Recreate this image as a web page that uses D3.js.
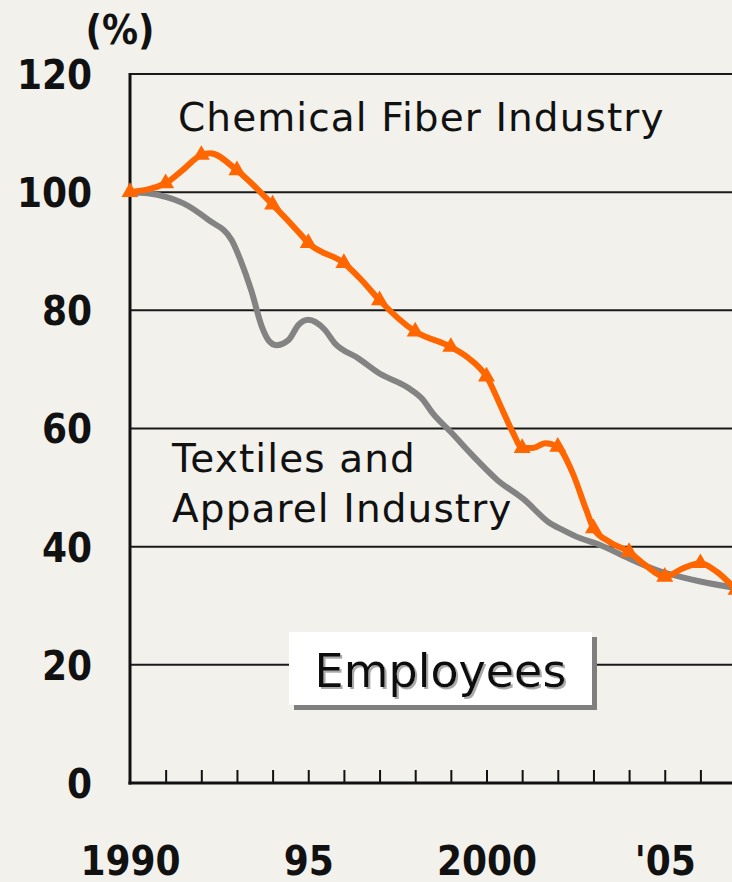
<!DOCTYPE html>
<html>
<head>
<meta charset="utf-8">
<script src="https://cdn.jsdelivr.net/npm/d3@7/dist/d3.min.js"></script>
<style>
  html, body { margin: 0; padding: 0; background: #f2f1ec; }
  svg { display: block; }
  .axlab { font-family: "DejaVu Sans Condensed", "DejaVu Sans", sans-serif; font-stretch: condensed; font-weight: bold; font-size: 40px; fill: #111; }
  .note { font-family: "DejaVu Sans", sans-serif; font-size: 39px; fill: #111; letter-spacing: 1.1px; }
</style>
</head>
<body>
<svg id="chart" width="732" height="882"></svg>
<script>
// ---------- data ----------
const yTicks = [0, 20, 40, 60, 80, 100, 120];
const xLabelYears = [1990, 1995, 2000, 2005];
const xLabelText = ["1990", "95", "2000", "'05"];
const minorTickYears = d3.range(1991, 2008);

// Chemical Fiber Industry (index, 1990 = 100): annual markers
const fiberYears  = [1990, 1991, 1992, 1993, 1994, 1995, 1996, 1997, 1998, 1999, 2000, 2001, 2002, 2003, 2004, 2005, 2006, 2007];
const fiberValues = [100, 101.5, 106.3, 103.7, 97.9, 91.4, 88.0, 81.7, 76.4, 73.8, 68.8, 56.7, 56.9, 43.1, 39.1, 34.9, 37.2, 32.7];
// Chemical Fiber line (finer readings along the drawn line)
const fiberLineYears  = [1990, 1991, 1991.45, 1992, 1992.25, 1993, 1994, 1994.75, 1995, 1996, 1996.5, 1997, 1998, 1999, 1999.5, 2000, 2000.45, 2000.75, 2001, 2001.3, 2001.65, 2002, 2002.4, 2002.8, 2003, 2003.45, 2004, 2004.45, 2005, 2005.5, 2006, 2006.45, 2007];
const fiberLineValues = [100, 101.5, 103.6, 106.3, 106.6, 103.7, 97.9, 93.1, 91.4, 88.0, 85.1, 81.7, 76.4, 73.8, 71.9, 68.8, 63.1, 59.2, 56.7, 56.7, 57.5, 56.9, 52.7, 46.2, 43.1, 40.8, 39.1, 36.9, 34.9, 36.3, 37.2, 35.8, 32.7];

// Textiles and Apparel Industry (index, 1990 = 100)
const textileYears  = [1990, 1990.5, 1991, 1991.5, 1992.2, 1992.85, 1993.1, 1993.4, 1993.7, 1993.9, 1994.1, 1994.45, 1994.72, 1995, 1995.45, 1995.75, 1996.4, 1997, 1997.8, 1998.2, 1998.5, 1999, 1999.6, 2000.3, 2001.05, 2001.75, 2002.15, 2002.6, 2003.1, 2004, 2004.75, 2005.5, 2006, 2007];
const textileValues = [100, 99.8, 99.2, 98.1, 95.3, 91.9, 88.5, 83.4, 77.2, 74.8, 74.1, 75.0, 77.5, 78.4, 76.8, 74.4, 71.9, 69.3, 66.9, 65.0, 62.5, 59.4, 55.5, 51.3, 48.0, 44.1, 42.8, 41.5, 40.5, 38.0, 36.1, 34.8, 34.1, 33.0];

// ---------- layout ----------
const svg = d3.select("#chart");
const W = 732;
const plotLeft = 130, plotTop = 74, plotBottom = 783;
const yearPx = 35.65;

const x = d3.scaleLinear().domain([1990, 2007]).range([plotLeft, plotLeft + 17 * yearPx]);
const y = d3.scaleLinear().domain([0, 120]).range([plotBottom, plotTop]);

// shadow filter for the "Employees" caption
const defs = svg.append("defs");
const f = defs.append("filter").attr("id", "txtShadow").attr("x", "-10%").attr("y", "-20%").attr("width", "120%").attr("height", "150%");
f.append("feDropShadow").attr("dx", 2).attr("dy", 2).attr("stdDeviation", 0.3)
  .attr("flood-color", "#aaaaaa").attr("flood-opacity", 1);

// gridlines
svg.append("g").selectAll("line")
  .data(yTicks.filter(d => d > 0))
  .join("line")
  .attr("x1", plotLeft).attr("x2", W)
  .attr("y1", d => y(d)).attr("y2", d => y(d))
  .attr("stroke", "#1a1a1a").attr("stroke-width", 2);

// y axis labels
const yAxis = d3.axisLeft(y).tickValues(yTicks).tickSize(0).tickPadding(38).tickFormat(d3.format("d"));
const gy = svg.append("g").attr("transform", `translate(${plotLeft},0)`).call(yAxis);
gy.select(".domain").remove();
gy.selectAll("text").attr("class", "axlab").attr("dy", "0.36em");

// left axis line
svg.append("line").attr("x1", plotLeft).attr("x2", plotLeft).attr("y1", plotTop - 1).attr("y2", plotBottom + 1.5)
  .attr("stroke", "#111").attr("stroke-width", 3);
// bottom axis line
svg.append("line").attr("x1", plotLeft - 1.5).attr("x2", W).attr("y1", plotBottom).attr("y2", plotBottom)
  .attr("stroke", "#111").attr("stroke-width", 3);

// minor ticks (inside)
const xMinor = d3.axisBottom(x).tickValues(minorTickYears).tickSizeInner(-13).tickSizeOuter(0).tickFormat("");
const gxm = svg.append("g").attr("transform", `translate(0,${plotBottom})`).call(xMinor);
gxm.select(".domain").remove();
gxm.selectAll("line").attr("stroke", "#111").attr("stroke-width", 2);

// x labels
const xLab = d3.axisBottom(x).tickValues(xLabelYears).tickSize(0).tickPadding(0)
  .tickFormat((d, i) => xLabelText[i]);
const gx = svg.append("g").attr("transform", `translate(0,${plotBottom})`).call(xLab);
gx.select(".domain").remove();
gx.selectAll("text").attr("class", "axlab").attr("dy", null).attr("y", 92);

// unit label
svg.append("text").attr("class", "axlab").attr("x", 120).attr("y", 44).attr("text-anchor", "middle").text("(%)");

// lines
const line = d3.line().x(d => x(d[0])).y(d => y(d[1])).curve(d3.curveMonotoneX);

svg.append("path")
  .datum(textileYears.map((d, i) => [d, textileValues[i]]))
  .attr("d", line).attr("fill", "none")
  .attr("stroke", "#838383").attr("stroke-width", 6).attr("stroke-linejoin", "round");

svg.append("path")
  .datum(fiberLineYears.map((d, i) => [d, fiberLineValues[i]]))
  .attr("d", line).attr("fill", "none")
  .attr("stroke", "#ff6600").attr("stroke-width", 6).attr("stroke-linejoin", "round");

svg.append("g").selectAll("path")
  .data(fiberYears.map((d, i) => [d, fiberValues[i]]))
  .join("path")
  .attr("transform", d => `translate(${x(d[0])},${y(d[1])})`)
  .attr("d", d3.symbol(d3.symbolTriangle, 125))
  .attr("fill", "#ff6600");

// series labels
svg.append("text").attr("class", "note").attr("x", 178).attr("y", 131).text("Chemical Fiber Industry");
svg.append("text").attr("class", "note").attr("x", 172).attr("y", 472).text("Textiles and");
svg.append("text").attr("class", "note").attr("x", 172).attr("y", 522).text("Apparel Industry");

// Employees box
const bx = 289, by = 632, bw = 303, bh = 73;
svg.append("rect").attr("x", bx + 5).attr("y", by + 5).attr("width", bw).attr("height", bh).attr("fill", "#7f7f7f");
svg.append("rect").attr("x", bx).attr("y", by).attr("width", bw).attr("height", bh).attr("fill", "#ffffff");
svg.append("text").attr("x", bx + bw / 2).attr("y", 687).attr("text-anchor", "middle")
  .attr("filter", "url(#txtShadow)")
  .style("font-family", "DejaVu Sans, sans-serif").style("font-size", "46px").attr("fill", "#111").text("Employees");
</script>
</body>
</html>
